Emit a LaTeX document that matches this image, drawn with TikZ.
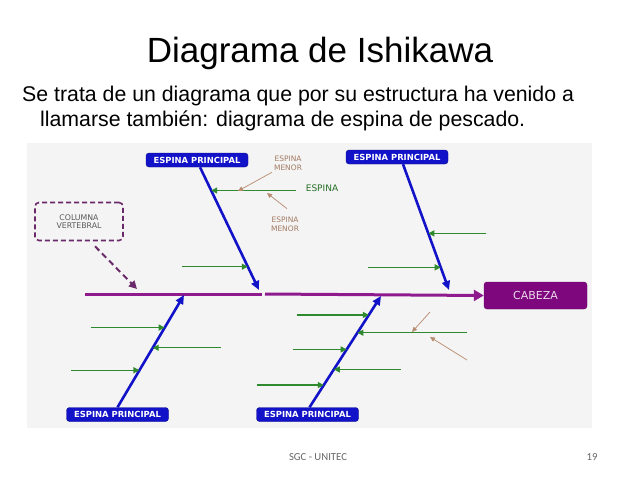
\documentclass[tikz,border=0pt]{standalone}
\usepackage{fontspec}
\setmainfont{Liberation Sans}
\newfontfamily\lblfont{DejaVu Sans}
\newfontfamily\footfont{Carlito}
\usetikzlibrary{arrows.meta,positioning,calc}
\definecolor{espblue}{HTML}{1212C8}
\definecolor{esppurple}{HTML}{8E1A8E}
\definecolor{headfill}{HTML}{7E077E}
\definecolor{espgreen}{HTML}{2F8A2F}
\definecolor{esptan}{HTML}{B88A70}
\definecolor{tantext}{HTML}{A27A62}
\definecolor{colframe}{HTML}{6A2A6A}
\definecolor{panel}{HTML}{F4F4F4}
\tikzset{
  princ/.style ={rectangle, rounded corners=3pt, draw=espblue!70!black, fill=espblue,
                 text=white, font=\lblfont\bfseries\fontsize{8.4}{9}\selectfont,
                 minimum width=102pt, minimum height=14pt, inner sep=1pt},
  head/.style  ={rectangle, rounded corners=3pt, draw=headfill!80!black, fill=headfill,
                 text=white!85!headfill, font=\lblfont\fontsize{11}{12}\selectfont,
                 minimum width=103pt, minimum height=27pt},
  colbox/.style={rectangle, rounded corners=4pt, draw=colframe, dashed, line width=1.6pt,
                 dash pattern=on 5pt off 3pt, minimum width=88pt, minimum height=38pt,
                 align=center, text=black!65, font=\lblfont\fontsize{7.8}{8.6}\selectfont},
  tag/.style   ={align=center, inner sep=0pt, font=\lblfont\fontsize{7.5}{8.6}\selectfont},
  spine/.style ={line width=3pt, draw=esppurple},
  bone/.style  ={line width=2.6pt, draw=espblue, -{Triangle[length=9pt,width=8pt]}},
  minor/.style ={line width=1.3pt, draw=espgreen, -{Triangle[length=6pt,width=6pt]}},
  tiny/.style  ={line width=0.7pt, draw=esptan, -{Triangle[length=5pt,width=4.5pt]}},
}

\begin{document}
\begin{tikzpicture}[x=1pt, y=-1pt]
\useasboundingbox[fill=white] (0,0) rectangle (638,479);

% titulo y texto
\node[anchor=base, font=\fontsize{35}{40}\selectfont] (title) at (320,62) {Diagrama de Ishikawa};
\node[anchor=base west, inner sep=0pt, font=\fontsize{21.3}{25}\selectfont] (line1) at (22,101)
  {Se trata de un diagrama que por su estructura ha venido a};
\node[anchor=base west, inner sep=0pt, font=\fontsize{21.3}{25}\selectfont] (line2) at (40,126)
  {llamarse también: diagrama de espina de pescado.};

% panel
\fill[panel] (27,143) rectangle (592,428);

% cabeza y columna
\node[head] (cabeza) at (535.5,295.5) {CABEZA};
\node[colbox] (columna) at (79,221.5) {COLUMNA\\VERTEBRAL};

\coordinate (tail) at (85,294);
\coordinate (gapL) at (262,294);
\coordinate (gapR) at (265,294);
\draw[spine] (tail) -- (gapL);
\draw[spine, -{Triangle[length=10pt,width=11pt]}] (gapR) -- (cabeza.west);
\draw[colframe, line width=2pt, dash pattern=on 6pt off 4pt, -{Triangle[length=8pt,width=8pt]}]
  (columna.south) ++(16,5) coordinate (colstart) (colstart) -- (137,289);

% espinas principales
\node[princ] (epA) at (197,160) {ESPINA PRINCIPAL};
\node[princ] (epB) at (397,157) {ESPINA PRINCIPAL};
\node[princ] (epC) at (117.5,414.5) {ESPINA PRINCIPAL};
\node[princ] (epD) at (307.5,414.5) {ESPINA PRINCIPAL};

\coordinate (tipA) at (259,290);
\coordinate (tipB) at (449,290);
\coordinate (tipC) at (184,295);
\coordinate (tipD) at (381,296);

\draw[bone] (epA.south) ++(3,0) coordinate (baseA) (baseA) -- (tipA);
\draw[bone] (epB.south) ++(6,0) coordinate (baseB) (baseB) -- (tipB);
\draw[bone] (epC.north) coordinate (baseC) -- (tipC);
\draw[bone] (epD.north) ++(2,0) coordinate (baseD) (baseD) -- (tipD);

% puntos sobre cada espina
\path (baseA) -- coordinate[pos=0.19] (a1) coordinate[pos=0.81] (a2) (tipA);
\path (baseB) -- coordinate[pos=0.55] (b1) coordinate[pos=0.82] (b2) (tipB);
\path (baseC) -- coordinate[pos=0.71] (c1) coordinate[pos=0.53] (c2) coordinate[pos=0.33] (c3) (tipC);
\path (baseD) -- coordinate[pos=0.83] (d1) coordinate[pos=0.67] (d2)
  coordinate[pos=0.52] (d3) coordinate[pos=0.34] (d4) coordinate[pos=0.2] (d5) (tipD);

% espinas menores
\draw[minor] ([xshift=85pt]a1) -- (a1);
\draw[minor] ([xshift=-66pt]a2) -- (a2);
\draw[minor] ([xshift=58pt]b1) -- (b1);
\draw[minor] ([xshift=-73pt]b2) -- (b2);
\draw[minor] ([xshift=-74pt]c1) -- (c1);
\draw[minor] ([xshift=68pt]c2) -- (c2);
\draw[minor] ([xshift=-68pt]c3) -- (c3);
\draw[minor] ([xshift=-72pt]d1) -- (d1);
\draw[minor] ([xshift=110pt]d2) -- (d2);
\draw[minor] ([xshift=-54pt]d3) -- (d3);
\draw[minor] ([xshift=67pt]d4) -- (d4);
\draw[minor] ([xshift=-67pt]d5) -- (d5);

% etiquetas
\node[tag, text=tantext] (menor1) at (288,163) {ESPINA\\MENOR};
\node[tag, text=espgreen!80!black, font=\lblfont\fontsize{9}{10}\selectfont] (espina) at (322,188.5) {ESPINA};
\node[tag, text=tantext] (menor2) at (285,224) {ESPINA\\MENOR};

\coordinate (m1) at (238,191);
\coordinate (m2) at (267,193);
\draw[tiny] (menor1.south west) ++(-2,2) coordinate (m1s) (m1s) -- (m1);
\draw[tiny] (menor2.north) ++(2,-8) coordinate (m2s) (m2s) -- (m2);

\coordinate (n1s) at (430,312);
\coordinate (n1) at (412,332);
\coordinate (n2s) at (467,360);
\coordinate (n2) at (430,337);
\draw[tiny] (n1s) -- (n1);
\draw[tiny] (n2s) -- (n2);

% pie
\node[font=\footfont\fontsize{10.7}{12}\selectfont, text=black!60] (pie) at (318,457) {SGC - UNITEC};
\node[font=\footfont\fontsize{10.7}{12}\selectfont, text=black!60] (pagina) at (592,457) {19};
\end{tikzpicture}
\end{document}
